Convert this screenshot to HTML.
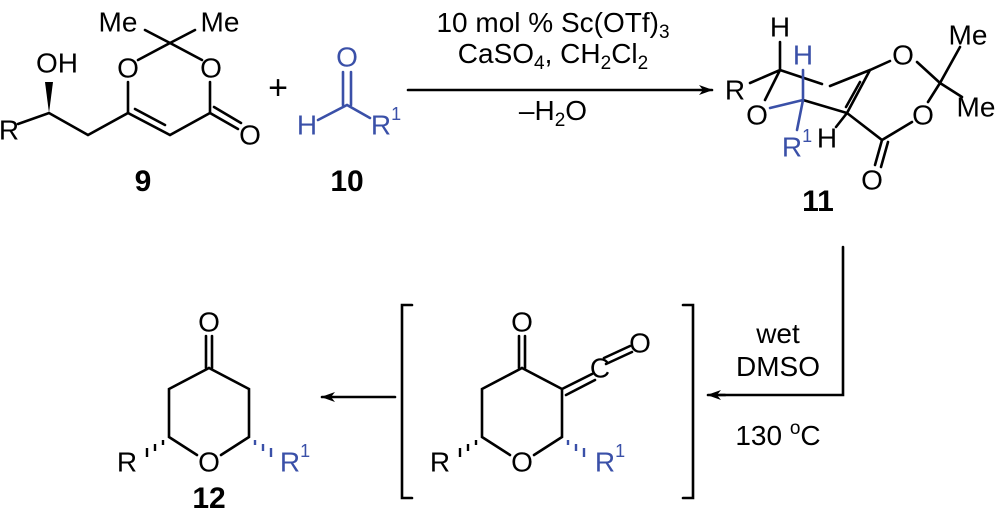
<!DOCTYPE html>
<html><head><style>body{margin:0;background:#fff}svg{display:block}</style></head><body>
<svg width="1000" height="509" viewBox="0 0 1000 509" xmlns="http://www.w3.org/2000/svg" font-family="Liberation Sans, Arial, sans-serif">
<defs><marker id="ah" markerWidth="14" markerHeight="10" refX="13" refY="5" orient="auto" markerUnits="userSpaceOnUse"><path d="M0,0 L14,5 L0,10 L4,5 z" fill="#000"/></marker></defs>
<g stroke="#000" stroke-width="2.6" fill="none" stroke-linecap="round">
<!-- 9 -->
<path d="M18,124 L49,113 L88,135 L128,113 L170,135 L210,113 L238,129"/>
<path d="M135,109 L165,125"/>
<path d="M214,107 L241,123"/>
<path d="M128,113 L128,82 M138,60 L170,43 L202,60 M210,82 L210,113 M170,43 L145,30 M170,43 L195,30"/>
<path d="M49,113 L45,82 L53,82 z" fill="#000" stroke="none"/>
<!-- arrows -->
<path d="M408,90 L712,90" marker-end="url(#ah)"/>
<path d="M843,247 L843,395 L720,395" />
<path d="M725,395 L708,395" marker-end="url(#ah)"/>
<path d="M395,397 L322,397" marker-end="url(#ah)"/>
<!-- 11 -->
<path d="M750,83 L780,70 L822,84 M830,86 L870,70 L890,61 M917,62 L940,83 L960,47 M940,83 L962,97 M940,83 L928,102 M912,122 L882,140 L847,113 L803,100 M870,70 L847,113 M860,82 L846,107 M882,140 L875,165 M888,142 L881,167 M847,113 L836,127 M780,70 L780,42 M780,70 L765,100"/>
<!-- intermediate -->
<path d="M519,336 L519,368 M525,336 L525,368"/>
<path d="M522,368 L482,389 L482,437 L510,455 M534,455 L562,437 L562,389 L522,368 M562,389 L592,374 M566,395 L595,380"/>
<path d="M604,358 L630,346 M606,364 L632,352"/>
<path d="M412,305 L402,305 L402,498 L412,498 M683,305 L693,305 L693,498 L683,498"/>
<!-- 12 -->
<path d="M206,336 L206,368 M212,336 L212,368"/>
<path d="M209,368 L169,389 L169,437 L197,455 M221,455 L249,437 L249,389 L209,368"/>
</g>
<g stroke="#000" stroke-width="2.4">
<path d="M476,440 l0,5 M468,444 l0,7 M460,448 l0,9 M163,440 l0,5 M155,444 l0,7 M147,448 l0,9"/>
</g>
<g stroke="#3a50a8" stroke-width="2.4">
<path d="M568,440 l0,5 M576,444 l0,7 M584,448 l0,9 M255,440 l0,5 M263,444 l0,7 M271,448 l0,9"/>
</g>
<g stroke="#3a50a8" stroke-width="2.6" fill="none" stroke-linecap="round">
<path d="M318,120 L347,105 L370,118 M343,72 L343,105 M351,72 L351,105"/>
<path d="M770,108 L803,100 L803,70 M803,100 L797,130"/>
</g>
<g font-size="28" text-anchor="middle" dominant-baseline="central" fill="#000">
<text x="9" y="130">R</text><text x="57" y="63">OH</text>
<text x="128" y="68">O</text><text x="211" y="68">O</text><text x="250" y="135">O</text>
<text x="118" y="22">Me</text><text x="220" y="22">Me</text>
<text x="278" y="88" font-size="34">+</text>
<g fill="#3a50a8"><text x="307" y="125">H</text><text x="347" y="57">O</text><text x="386" y="125">R<tspan font-size="18" dy="-11">1</tspan></text>
<text x="803" y="55">H</text><text x="797" y="147">R<tspan font-size="18" dy="-11">1</tspan></text>
<text x="610" y="462">R<tspan font-size="18" dy="-11">1</tspan></text><text x="295" y="462">R<tspan font-size="18" dy="-11">1</tspan></text></g>
<text x="735" y="90">R</text><text x="780" y="27">H</text><text x="757" y="115">O</text>
<text x="827" y="138">H</text><text x="903" y="55">O</text><text x="923" y="115">O</text><text x="872" y="180">O</text>
<text x="968" y="35">Me</text><text x="976" y="107">Me</text>
<text x="522" y="322">O</text><text x="600" y="368">C</text><text x="640" y="343">O</text>
<text x="522" y="462">O</text><text x="440" y="462">R</text>
<text x="209" y="322">O</text><text x="209" y="462">O</text><text x="127" y="462">R</text>
</g>
<g font-size="28" text-anchor="middle" fill="#000">
<text x="553" y="32">10 mol % Sc(OTf)<tspan font-size="19" dy="6">3</tspan></text>
<text x="553" y="63">CaSO<tspan font-size="19" dy="6">4</tspan><tspan dy="-6">, CH</tspan><tspan font-size="19" dy="6">2</tspan><tspan dy="-6">Cl</tspan><tspan font-size="19" dy="6">2</tspan></text>
<text x="553" y="120">–H<tspan font-size="19" dy="6">2</tspan><tspan dy="-6">O</tspan></text>
<text x="778" y="343">wet</text><text x="778" y="376">DMSO</text>
<text x="778" y="445">130 <tspan font-size="19" dy="-11">o</tspan><tspan dy="11">C</tspan></text>
</g>
<g font-size="30" font-weight="bold" text-anchor="middle" fill="#000">
<text x="143" y="191">9</text><text x="347" y="191">10</text><text x="818" y="211">11</text><text x="209" y="508">12</text>
</g>
</svg>
</body></html>
